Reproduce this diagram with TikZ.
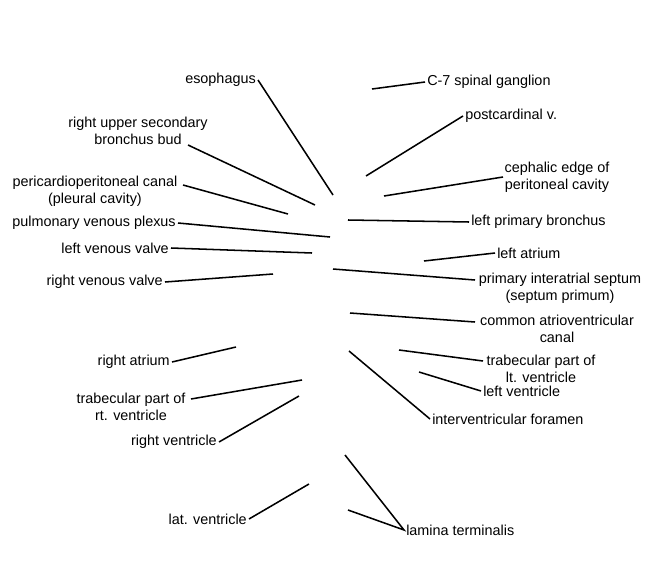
\documentclass[tikz,border=0pt]{standalone}
\usepackage{fontspec}
\setmainfont{Liberation Sans}
\begin{document}
\begin{tikzpicture}[x=0.75pt,y=-0.75pt,
  lbl/.style={inner sep=1.5pt,font=\fontsize{10.8pt}{12.8pt}\selectfont,align=center},
  ptr/.style={line width=1.15pt,black}]
\useasboundingbox[fill=white] (0,0) rectangle (650,582);
% left single-line labels
\node[lbl,anchor=east] (esoph) at (258,80) {esophagus};
\coordinate (esophE) at (333,195);
\node[lbl,anchor=east] (pvp) at (178,223) {pulmonary venous plexus};
\coordinate (pvpE) at (330,237);
\node[lbl,anchor=east] (lvv) at (171,248) {left venous valve};
\coordinate (lvvE) at (312,253);
\node[lbl,anchor=east] (rvv) at (165,282) {right venous valve};
\coordinate (rvvE) at (273,274);
\node[lbl,anchor=east] (ra) at (172,362) {right atrium};
\coordinate (raE) at (236,347);
\node[lbl,anchor=east] (rv) at (219,442) {right ventricle};
\coordinate (rvE) at (299,396);
\node[lbl,anchor=east] (latv) at (249,519) {lat. ventricle};
\coordinate (latvE) at (309,484);
% left two-line labels
\node[lbl] (rusb) at (138,130.5) {right upper secondary\\bronchus bud};
\coordinate (rusbS) at (188,145);
\coordinate (rusbE) at (315,205);
\node[lbl] (ppc) at (95,191.5) {pericardioperitoneal canal\\(pleural cavity)};
\coordinate (ppcS) at (183,185);
\coordinate (ppcE) at (288,214);
\node[lbl] (tprv) at (131,407) {trabecular part of\\rt. ventricle};
\coordinate (tprvS) at (191,399);
\coordinate (tprvE) at (302,380);
% right single-line labels
\node[lbl,anchor=west] (c7) at (425,82) {C-7 spinal ganglion};
\coordinate (c7E) at (372,89);
\node[lbl,anchor=west] (pcv) at (463,116) {postcardinal v.};
\coordinate (pcvE) at (366,176);
\node[lbl,anchor=west] (lpb) at (469,222) {left primary bronchus};
\coordinate (lpbE) at (348,220);
\node[lbl,anchor=west] (la) at (495,253) {left atrium};
\coordinate (laE) at (424,261);
\node[lbl,anchor=west] (lv) at (481,391) {left ventricle};
\coordinate (lvE) at (419,372);
\node[lbl,anchor=west] (ivf) at (430,419) {interventricular foramen};
\coordinate (ivfE) at (349,351);
\node[lbl,anchor=west] (lt) at (404,530) {lamina terminalis};
\coordinate (ltA) at (345,455);
\coordinate (ltB) at (348,510);
% right two-line labels
\node[lbl] (cep) at (557,177.5) {cephalic edge of\\peritoneal cavity};
\coordinate (cepS) at (503,177);
\coordinate (cepE) at (384,196);
\node[lbl] (pis) at (560,288.5) {primary interatrial septum\\(septum primum)};
\coordinate (pisS) at (475,280);
\coordinate (pisE) at (333,269);
\node[lbl] (cav) at (557,329) {common atrioventricular\\canal};
\coordinate (cavS) at (475,322);
\coordinate (cavE) at (350,313);
\node[lbl] (tplv) at (541,368.5) {trabecular part of\\lt. ventricle};
\coordinate (tplvS) at (483,361);
\coordinate (tplvE) at (399,350);
% connectors
\draw[ptr] (esoph.east) -- (esophE);
\draw[ptr] (pvp.east) -- (pvpE);
\draw[ptr] (lvv.east) -- (lvvE);
\draw[ptr] (rvv.east) -- (rvvE);
\draw[ptr] (ra.east) -- (raE);
\draw[ptr] (rv.east) -- (rvE);
\draw[ptr] (latv.east) -- (latvE);
\draw[ptr] (rusbS) -- (rusbE);
\draw[ptr] (ppcS) -- (ppcE);
\draw[ptr] (tprvS) -- (tprvE);
\draw[ptr] (c7.west) -- (c7E);
\draw[ptr] (pcv.west) -- (pcvE);
\draw[ptr] (lpb.west) -- (lpbE);
\draw[ptr] (la.west) -- (laE);
\draw[ptr] (lv.west) -- (lvE);
\draw[ptr] (ivf.west) -- (ivfE);
\draw[ptr] (ltA) -- (lt.west) -- (ltB);
\draw[ptr] (cepS) -- (cepE);
\draw[ptr] (pisS) -- (pisE);
\draw[ptr] (cavS) -- (cavE);
\draw[ptr] (tplvS) -- (tplvE);
\end{tikzpicture}
\end{document}
